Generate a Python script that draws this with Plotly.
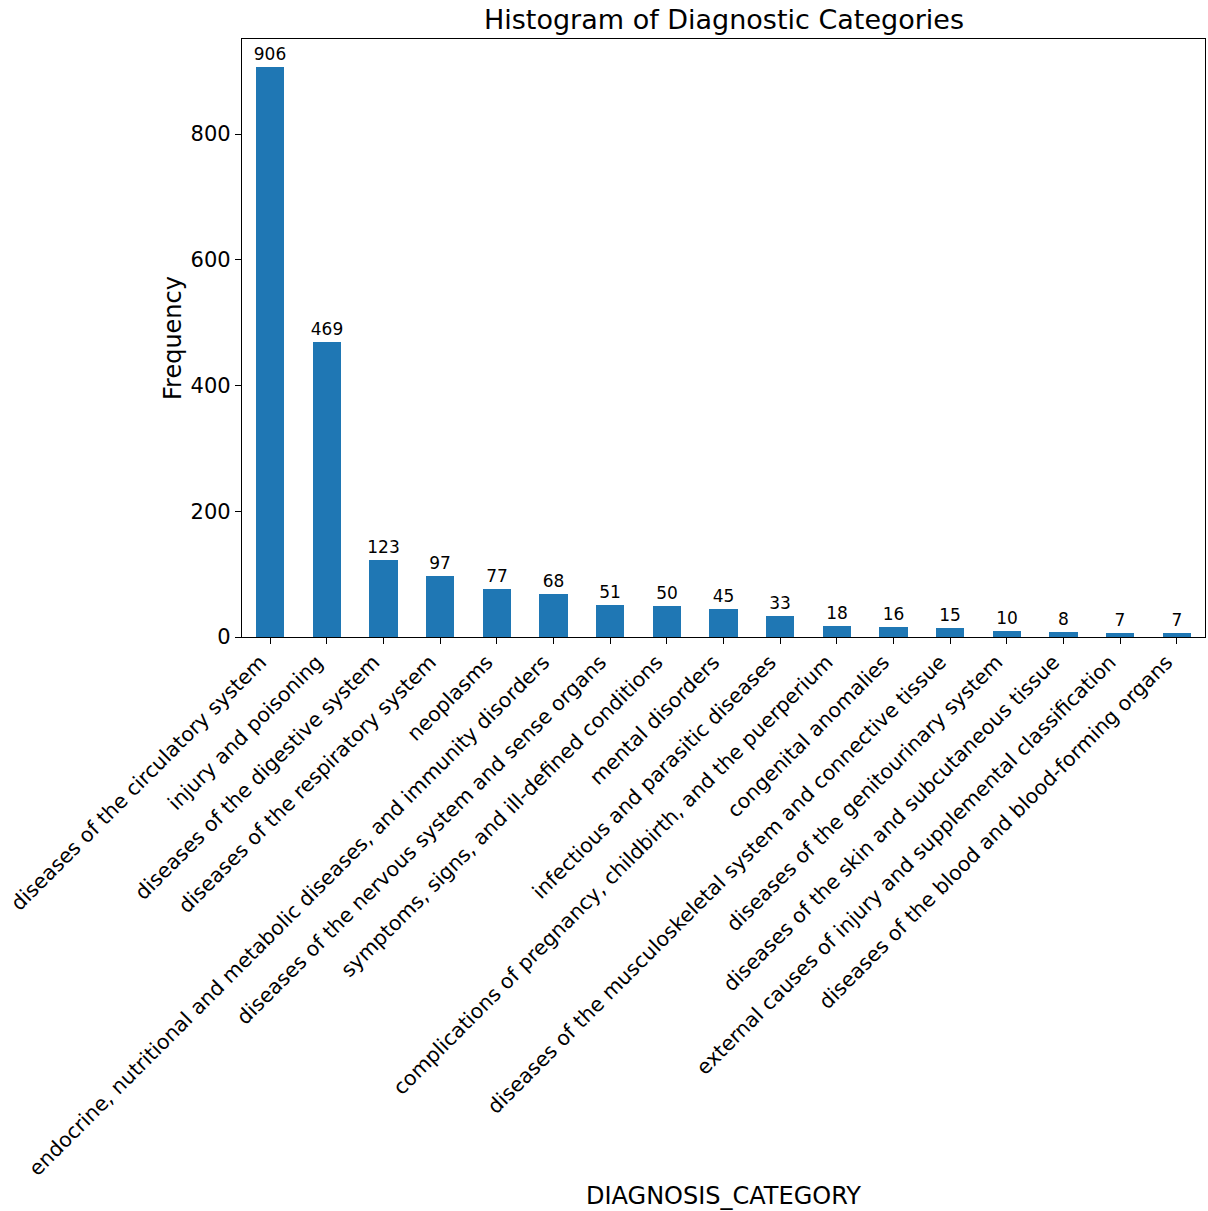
import plotly.graph_objects as go

categories = [
    "diseases of the circulatory system",
    "injury and poisoning",
    "diseases of the digestive system",
    "diseases of the respiratory system",
    "neoplasms",
    "endocrine, nutritional and metabolic diseases, and immunity disorders",
    "diseases of the nervous system and sense organs",
    "symptoms, signs, and ill-defined conditions",
    "mental disorders",
    "infectious and parasitic diseases",
    "complications of pregnancy, childbirth, and the puerperium",
    "congenital anomalies",
    "diseases of the musculoskeletal system and connective tissue",
    "diseases of the genitourinary system",
    "diseases of the skin and subcutaneous tissue",
    "external causes of injury and supplemental classification",
    "diseases of the blood and blood-forming organs",
]
counts = [906, 469, 123, 97, 77, 68, 51, 50, 45, 33, 18, 16, 15, 10, 8, 7, 7]
y_ticks = [0, 200, 400, 600, 800]

FONT = "DejaVu Sans"
W, H = 1208, 1211
L, R, T, B = 242, 3, 39, 574

fig = go.Figure(go.Bar(
    x=list(range(len(categories))),
    y=counts,
    width=0.5,
    marker=dict(color="#1f77b4", line=dict(width=0)),
    text=[str(c) for c in counts],
    textposition="outside",
    constraintext="none",
    textfont=dict(family=FONT, size=17, color="black"),
    cliponaxis=False,
))

fig.update_layout(
    width=W, height=H,
    margin=dict(l=L, r=R, t=T, b=B, autoexpand=False),
    paper_bgcolor="white", plot_bgcolor="white",
    font=dict(family=FONT, color="black"),
    showlegend=False,
    bargap=0,
)
fig.update_xaxes(
    range=[-0.5, len(categories) - 0.5],
    tickmode="array",
    tickvals=list(range(len(categories))),
    ticktext=categories,
    tickangle=-45,
    tickfont=dict(family=FONT, size=20.5),
    ticklabelshift=-10,
    ticklabelstandoff=-2,
    ticks="outside", ticklen=6, tickwidth=1.2, tickcolor="black",
    showline=True, linecolor="black", linewidth=1.2, mirror=True,
    showgrid=False, zeroline=False, automargin=False,
)
fig.update_yaxes(
    range=[0, 951.3],
    tickmode="array", tickvals=y_ticks,
    tickfont=dict(family=FONT, size=21),
    ticks="outside", ticklen=6, tickwidth=1.2, tickcolor="black",
    showline=True, linecolor="black", linewidth=1.2, mirror=True,
    showgrid=False, zeroline=False, automargin=False,
)
fig.add_annotation(
    text="Histogram of Diagnostic Categories",
    xref="paper", yref="paper", x=0.5, y=1, yshift=20,
    xanchor="center", yanchor="middle",
    showarrow=False, font=dict(family=FONT, size=27, color="black"),
)
fig.add_annotation(
    text="DIAGNOSIS_CATEGORY",
    xref="paper", yref="paper", x=0.5, y=0, yshift=-(1196 - 637),
    xanchor="center", yanchor="middle",
    showarrow=False, font=dict(family=FONT, size=24, color="black"),
)
fig.add_annotation(
    text="Frequency",
    xref="paper", yref="paper", x=0, xshift=-(L - 173), y=0.5,
    xanchor="center", yanchor="middle", textangle=-90,
    showarrow=False, font=dict(family=FONT, size=24, color="black"),
)

fig.write_html(
    "out.html",
    config={"displayModeBar": False},
    post_script="document.body.style.margin='0';document.body.style.overflow='hidden';",
)
